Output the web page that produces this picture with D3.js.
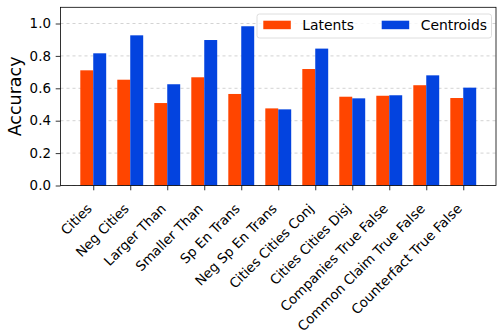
<!DOCTYPE html>
<html>
<head>
<meta charset="utf-8">
<script src="https://cdn.jsdelivr.net/npm/d3@7"></script>
<style>
  html, body { margin: 0; padding: 0; background: #fff; }
  text { font-family: "DejaVu Sans", sans-serif; fill: #000; }
</style>
</head>
<body>
<svg id="chart" width="497" height="331"></svg>
<script>
// Probe accuracy per dataset
const categories = ["Cities", "Neg Cities", "Larger Than", "Smaller Than", "Sp En Trans",
  "Neg Sp En Trans", "Cities Cities Conj", "Cities Cities Disj", "Companies True False",
  "Common Claim True False", "Counterfact True False"];
const latents   = [0.711, 0.653, 0.509, 0.668, 0.565, 0.476, 0.719, 0.548, 0.554, 0.619, 0.540];
const centroids = [0.816, 0.927, 0.625, 0.898, 0.983, 0.470, 0.845, 0.538, 0.557, 0.680, 0.604];
const seriesNames = ["Latents", "Centroids"];
const yTicks = [0.0, 0.2, 0.4, 0.6, 0.8, 1.0];

const colors = ["#ff4500", "#0343df"];
const barW = 0.35;
const tickFont = 13.4;
const legendFont = 13.9;

const svg = d3.select("#chart");
const plot = { left: 60.5, right: 496, top: 7.3, bottom: 185.5 };

const n = categories.length;
const pad = 0.05 * ((n - 1 + barW) - (-barW));
const x = d3.scaleLinear().domain([-barW - pad, n - 1 + barW + pad]).range([plot.left, plot.right]);
const y = d3.scaleLinear().domain([0, 1.1]).range([plot.bottom, plot.top]);

// horizontal grid
svg.append("g").selectAll("line").data(yTicks).join("line")
  .attr("x1", plot.left).attr("x2", plot.right)
  .attr("y1", d => y(d)).attr("y2", d => y(d))
  .attr("stroke", "#b0b0b0").attr("stroke-opacity", 0.7)
  .attr("stroke-width", 0.8).attr("stroke-dasharray", "3,3");

// bars: Latents left of each tick, Centroids right of it
const series = [latents, centroids];
series.forEach((vals, s) => {
  svg.append("g").selectAll("rect").data(vals).join("rect")
    .attr("x", (d, i) => x(i + (s === 0 ? -barW : 0)))
    .attr("width", x(barW) - x(0))
    .attr("y", d => y(d))
    .attr("height", d => y(0) - y(d))
    .attr("fill", colors[s]);
});

// frame
svg.append("rect")
  .attr("x", plot.left).attr("y", plot.top)
  .attr("width", plot.right - plot.left).attr("height", plot.bottom - plot.top)
  .attr("fill", "none").attr("stroke", "#000").attr("stroke-width", 0.8);

// y axis
const yAxis = d3.axisLeft(y).tickValues(yTicks).tickFormat(d3.format(".1f")).tickSize(4.8).tickPadding(4.8);
const gy = svg.append("g").attr("transform", `translate(${plot.left},0)`).call(yAxis);
gy.select(".domain").remove();
gy.selectAll("line").attr("stroke", "#000").attr("stroke-width", 0.8);
gy.selectAll("text").style("font-size", tickFont + "px").style("font-family", "DejaVu Sans");

// x axis with rotated category labels
const xAxis = d3.axisBottom(x).tickValues(d3.range(n)).tickFormat(i => categories[i]).tickSize(4.8);
const gx = svg.append("g").attr("transform", `translate(0,${plot.bottom})`).call(xAxis);
gx.select(".domain").remove();
gx.selectAll("line").attr("stroke", "#000").attr("stroke-width", 0.8);
gx.selectAll("text")
  .style("font-size", tickFont + "px").style("font-family", "DejaVu Sans")
  .attr("text-anchor", "end")
  .attr("x", 0).attr("y", 0).attr("dy", 0)
  .attr("transform", "translate(-1,24) rotate(-45)");

// y label
svg.append("text")
  .attr("transform", `translate(20.5,${(plot.top + plot.bottom) / 2}) rotate(-90)`)
  .attr("text-anchor", "middle")
  .style("font-size", "17.5px")
  .text("Accuracy");

// legend
const lg = svg.append("g");
lg.append("rect").attr("x", 257).attr("y", 14).attr("width", 234.5).attr("height", 24)
  .attr("rx", 2.5).attr("fill", "#fff").attr("fill-opacity", 0.8)
  .attr("stroke", "#d6d6d6").attr("stroke-width", 0.8);
const entryX = [263.3, 381.7];
seriesNames.forEach((name, s) => {
  lg.append("rect").attr("x", entryX[s]).attr("y", 20.7).attr("width", 27.5).attr("height", 8.5)
    .attr("fill", colors[s]);
  lg.append("text").attr("x", entryX[s] + 39).attr("y", 30.2).style("font-size", legendFont + "px").text(name);
});
</script>
</body>
</html>
